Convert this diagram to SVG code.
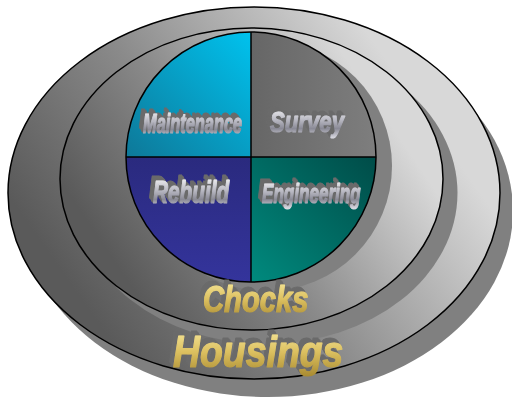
<svg xmlns="http://www.w3.org/2000/svg" width="512" height="403" viewBox="0 0 512 403">
<defs>
<linearGradient id="ring" x1="0.05" y1="0.6" x2="0.8" y2="0.2">
<stop offset="0" stop-color="#5a5a5a"/><stop offset="0.45" stop-color="#8a8a8a"/><stop offset="1" stop-color="#d8d8d8"/>
</linearGradient>
<linearGradient id="qtl" x1="1" y1="0" x2="0" y2="1">
<stop offset="0" stop-color="#00c2ee"/><stop offset="1" stop-color="#0e7898"/>
</linearGradient>
<linearGradient id="qtr" x1="0" y1="0" x2="1" y2="0">
<stop offset="0" stop-color="#666666"/><stop offset="1" stop-color="#7e7e7e"/>
</linearGradient>
<linearGradient id="qbl" x1="0" y1="0" x2="0" y2="1">
<stop offset="0" stop-color="#2a2a7e"/><stop offset="1" stop-color="#34349c"/>
</linearGradient>
<linearGradient id="qbr" x1="1" y1="0" x2="0" y2="1">
<stop offset="0" stop-color="#004c48"/><stop offset="1" stop-color="#008a7e"/>
</linearGradient>
<linearGradient id="silver" x1="0" y1="0" x2="0" y2="1">
<stop offset="0" stop-color="#ffffff"/><stop offset="0.45" stop-color="#b8b8c2"/><stop offset="0.7" stop-color="#8a8a96"/><stop offset="1" stop-color="#e0e0e8"/>
</linearGradient>
<linearGradient id="gold" x1="0" y1="0" x2="0" y2="1">
<stop offset="0" stop-color="#f8ea9e"/><stop offset="0.5" stop-color="#dcc060"/><stop offset="1" stop-color="#a88a30"/>
</linearGradient>
<filter id="ext" x="-20%" y="-40%" width="140%" height="180%">
<feOffset in="SourceAlpha" dx="-0.8" dy="-1" result="o1"/>
<feOffset in="SourceAlpha" dx="-1.6" dy="-2" result="o2"/>
<feOffset in="SourceAlpha" dx="-2.4" dy="-3" result="o3"/>
<feOffset in="SourceAlpha" dx="-3.2" dy="-4" result="o4"/>
<feOffset in="SourceAlpha" dx="-4" dy="-5" result="o5"/>
<feMerge result="m"><feMergeNode in="o1"/><feMergeNode in="o2"/><feMergeNode in="o3"/><feMergeNode in="o4"/><feMergeNode in="o5"/></feMerge>
<feFlood flood-color="#6a6a6a"/>
<feComposite in2="m" operator="in" result="sh"/>
<feMerge><feMergeNode in="sh"/><feMergeNode in="SourceGraphic"/></feMerge>
</filter>
<style>
.shadow{fill:#808080}
.ln{stroke:#000;stroke-width:1.5}
.ext{filter:url(#ext)}
.lbl{font-family:"Liberation Sans",Arial,sans-serif;font-weight:bold;font-style:italic;stroke-width:1.2;stroke-linejoin:round}
.sil{fill:url(#silver);stroke:url(#silver)}
.gld{fill:url(#gold);stroke:url(#gold)}
</style>
</defs>
<g id="housings">
<ellipse class="shadow" cx="268" cy="211" rx="245" ry="186"/>
<ellipse class="ln" cx="254" cy="193" rx="246" ry="186" fill="url(#ring)"/>
</g>
<g id="chocks">
<ellipse class="shadow" cx="266" cy="193" rx="191.5" ry="151"/>
<ellipse class="ln" cx="251.5" cy="179" rx="191.5" ry="151" fill="url(#ring)"/>
</g>
<g id="core-shadow">
<circle class="shadow" cx="267" cy="166" r="125"/>
</g>
<g id="maintenance">
<path d="M251,157 L126,157 A125,125 0 0 1 251,32 Z" fill="url(#qtl)"/>
</g>
<g id="survey">
<path d="M251,157 L251,32 A125,125 0 0 1 376,157 Z" fill="url(#qtr)"/>
</g>
<g id="engineering">
<path d="M251,157 L376,157 A125,125 0 0 1 251,282 Z" fill="url(#qbr)"/>
</g>
<g id="rebuild">
<path d="M251,157 L251,282 A125,125 0 0 1 126,157 Z" fill="url(#qbl)"/>
</g>
<g id="connectors">
<circle class="ln" cx="251" cy="157" r="125" fill="none"/>
<line class="ln" x1="251" y1="32" x2="251" y2="282"/>
<line class="ln" x1="126" y1="157" x2="376" y2="157"/>
</g>
<g id="labels">
<g class="ext"><text class="lbl sil" transform="translate(143,133) scale(0.585,1)" font-size="28">Maintenance</text></g>
<g class="ext"><text class="lbl sil" transform="translate(270,132) scale(0.74,1)" font-size="30">Survey</text></g>
<g class="ext"><text class="lbl sil" transform="translate(153,203) scale(0.67,1)" font-size="31">Rebuild</text></g>
<g class="ext"><text class="lbl sil" transform="translate(262,203) scale(0.61,1)" font-size="28">Engineering</text></g>
<g class="ext"><text class="lbl gld" transform="translate(203,312) scale(0.79,1)" font-size="37">Chocks</text></g>
<g class="ext"><text class="lbl gld" transform="translate(173,367) scale(0.85,1)" font-size="44">Housings</text></g>
</g>
</svg>
